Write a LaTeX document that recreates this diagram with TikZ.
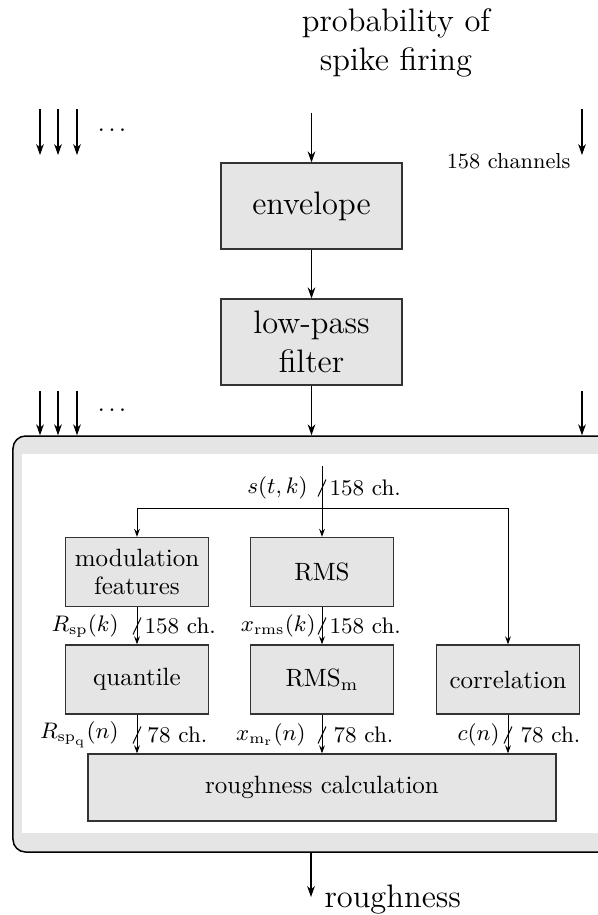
\documentclass[tikz,border=0pt]{standalone}
\usepackage{fontspec}
\usetikzlibrary{arrows.meta}
\begin{document}
\begin{tikzpicture}[x=0.4pt,y=-0.4pt,
  bigarr/.style={-{Stealth[length=4.4pt,width=3.1pt]}, line width=0.45pt},
  smallarr/.style={-{Stealth[length=3.2pt,width=2.3pt]}, line width=0.4pt},
  bigbox/.style={draw=black!80, fill=black!10, line width=0.5pt, minimum width=72.4pt, minimum height=34.4pt, align=center, inner sep=0pt, font=\fontsize{13}{15.5}\selectfont},
  smallbox/.style={draw=black!80, fill=black!10, line width=0.5pt, minimum width=57.2pt, minimum height=27.6pt, align=center, inner sep=0pt, font=\fontsize{10}{11.5}\selectfont},
  lbl/.style={inner sep=0pt, font=\small},
  bus/.style={line width=0.4pt},
  bigtext/.style={inner sep=0pt, align=center, font=\fontsize{13}{15.5}\selectfont},
  dotsnode/.style={inner sep=0pt, font=\fontsize{11}{13}\selectfont},
]
\path[use as bounding box, clip] (0,0) rectangle (598,915);

% title
\node[bigtext] (prob) at (396,43) {probability of\\spike firing};

% top chain
\coordinate (topin) at (311.5,113);
\node[bigbox] (env) at (311.5,206) {envelope};
\node[bigbox] (lp) at (311.5,342) {low-pass\\filter};

% outer box
\node[draw=black, line width=0.6pt, fill=black!10, rounded corners=5pt, minimum width=239.6pt, minimum height=166.4pt, inner sep=0pt] (outer) at (312.5,644) {};
\node[fill=white, minimum width=232.4pt, minimum height=151.6pt, inner sep=0pt] (inner) at (312.5,643.5) {};

\draw[bigarr] (topin) -- (env);
\draw[bigarr] (env) -- (lp);
\draw[bigarr] (lp.south) -- (lp.south |- outer.north);

% other channels, top row
\foreach \x [count=\i] in {40,58,77} {
  \coordinate (ta\i) at (\x,109);
  \coordinate (tb\i) at (\x,155);
  \draw[bigarr] (ta\i) -- (tb\i);
}
\coordinate (tra) at (582,109);
\coordinate (trb) at (582,155);
\draw[bigarr] (tra) -- (trb);
\node[inner sep=0pt, anchor=base east, font=\fontsize{8.7}{10}\selectfont] (ch158) at (571,168) {158 channels};
\node[dotsnode] (dots1) at (112,130) {.\kern1.3pt.\kern1.3pt.};

% other channels, second row
\foreach \x [count=\i] in {40,58,77} {
  \coordinate (sa\i) at (\x,391);
  \draw[bigarr] (sa\i) -- (sa\i |- outer.north);
}
\coordinate (sr) at (582,391);
\draw[bigarr] (sr) -- (sr |- outer.north);
\node[dotsnode] (dots2) at (112,410) {.\kern1.3pt.\kern1.3pt.};

% inner blocks
\coordinate (sin) at (322,466);
\coordinate (br) at (322,508);
\node[smallbox] (mod) at (137,572) {modulation\\features};
\node[smallbox] (rms) at (322,572) {RMS};
\node[smallbox] (quant) at (137,679.5) {quantile};
\node[smallbox] (rmsm) at (322,679.5) {RMS$_\mathrm{m}$};
\node[smallbox] (corr) at (508,679.5) {correlation};
\node[draw=black!80, fill=black!10, line width=0.5pt, minimum width=187.2pt, minimum height=26.8pt, inner sep=0pt] (calc) at (322,787.5) {roughness calculation};

\draw[smallarr] (sin) -- (rms);
\draw[smallarr] (br) -| (mod.north);
\draw[smallarr] (br) -| (corr.north);
\draw[smallarr] (mod) -- (quant);
\draw[smallarr] (rms) -- (rmsm);
\draw[smallarr] (quant.south) -- (quant.south |- calc.north);
\draw[smallarr] (rmsm.south) -- (rmsm.south |- calc.north);
\draw[smallarr] (corr.south) -- (corr.south |- calc.north);

% bus marks
\coordinate (m0) at (322,488);
\coordinate (m1) at (137,626);
\coordinate (m2) at (322,626);
\coordinate (m3) at (137,735);
\coordinate (m4) at (322,735);
\coordinate (m5) at (508,735);
\foreach \m in {m0,m1,m2,m3,m4,m5} {
  \draw[bus] ([shift={(-4,8.5)}]\m) -- ([shift={(4,-8.5)}]\m);
}

% labels
\node[lbl, anchor=east] (ls0) at (308,488) {$s(t,k)$};
\node[lbl, anchor=west] (lc0) at (329,488) {158 ch.};
\node[lbl, anchor=east] (ls1) at (119,626) {$R_{\mathrm{sp}}(k)$};
\node[lbl, anchor=west] (lc1) at (144,626) {158 ch.};
\node[lbl, anchor=east] (ls2) at (316,626) {$x_{\mathrm{rms}}(k)$};
\node[lbl, anchor=west] (lc2) at (329,626) {158 ch.};
\node[lbl, anchor=east] (ls3) at (119,735) {$R_{\mathrm{sp}_\mathrm{q}}(n)$};
\node[lbl, anchor=west] (lc3) at (147,735) {78 ch.};
\node[lbl, anchor=east] (ls4) at (306,735) {$x_{\mathrm{m}_\mathrm{r}}(n)$};
\node[lbl, anchor=west] (lc4) at (333,735) {78 ch.};
\node[lbl, anchor=east] (ls5) at (500,735) {$c(n)$};
\node[lbl, anchor=west] (lc5) at (520,735) {78 ch.};

% output
\coordinate (rout) at (311,897);
\draw[bigarr] (rout |- outer.south) -- (rout);
\node[inner sep=0pt, anchor=base west, font=\fontsize{13}{15.5}\selectfont] (rough) at (324,907) {roughness};
\end{tikzpicture}
\end{document}
